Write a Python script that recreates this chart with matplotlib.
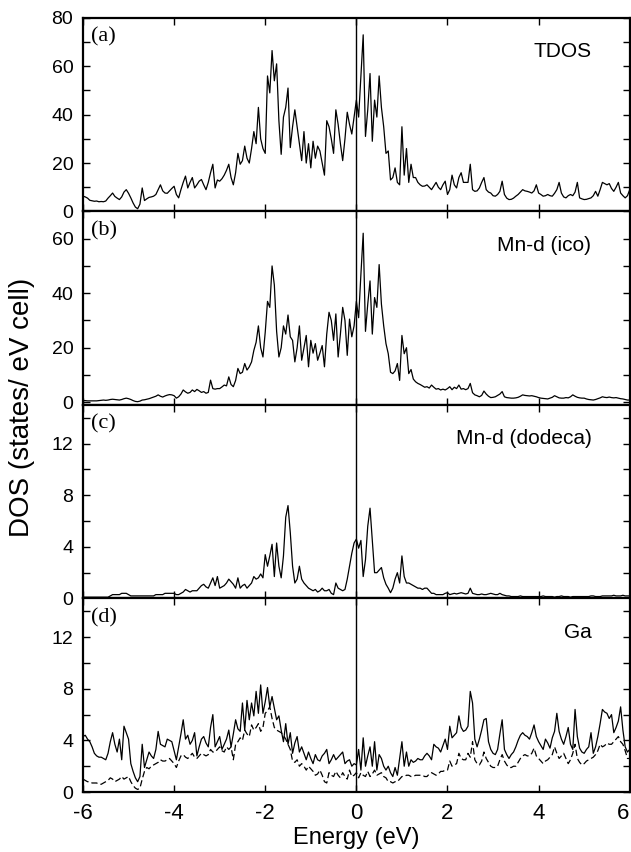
import numpy as np
import matplotlib
matplotlib.use('Agg')
import matplotlib.pyplot as plt
from matplotlib.ticker import MultipleLocator

plt.rcParams['font.family'] = ['Liberation Sans', 'DejaVu Sans']

# energy grid, -6 .. 6 eV in 0.05 eV steps (one row = 1 eV)
energy = np.linspace(-6, 6, 241)

tdos = [
    6.3, 6.0, 5.5, 4.6, 4.4, 4.2, 4.3, 4.0, 4.1, 4.0, 4.3, 5.5, 6.5, 7.6, 6.2, 5.5, 4.9, 6.0, 8.0, 9.0,
    7.5, 5.6, 3.5, 1.8, 1.1, 3.0, 9.7, 4.5, 5.2, 5.8, 6.0, 6.3, 7.0, 9.0, 11.0, 8.5, 7.6, 7.5, 8.5, 9.5,
    10.4, 7.0, 5.6, 9.0, 12.0, 14.6, 9.7, 12.0, 14.0, 9.7, 11.0, 12.5, 13.2, 11.0, 9.0, 12.0, 16.0, 19.5, 9.7, 13.0,
    12.5, 13.5, 15.0, 17.0, 19.5, 14.0, 11.0, 16.0, 24.0, 19.5, 21.0, 27.0, 22.0, 20.0, 26.0, 33.0, 28.0, 43.0, 30.0, 26.0,
    24.0, 56.0, 49.0, 66.5, 54.0, 61.0, 37.5, 23.6, 39.0, 43.0, 51.0, 26.4, 35.0, 42.0, 35.0, 28.0, 21.0, 33.0, 20.0, 28.0,
    18.0, 29.0, 22.0, 27.0, 25.0, 20.0, 15.0, 37.5, 35.0, 30.0, 24.0, 42.0, 36.0, 28.0, 21.0, 30.0, 41.0, 36.0, 32.0, 39.0,
    46.0, 39.0, 56.0, 73.0, 31.0, 42.0, 57.0, 29.0, 46.0, 39.0, 56.0, 43.0, 35.0, 24.0, 25.0, 13.0, 14.0, 18.0, 12.0, 11.0,
    35.0, 15.0, 26.0, 12.0, 19.5, 14.0, 14.0, 12.0, 11.0, 10.4, 10.5, 11.0, 10.0, 9.0, 10.5, 12.0, 10.0, 9.0, 11.0, 12.5,
    7.0, 9.0, 15.0, 11.0, 9.7, 14.0, 16.0, 12.0, 12.0, 12.0, 19.5, 9.0, 8.3, 8.5, 9.7, 12.0, 14.0, 9.0, 8.0, 7.6,
    6.5, 6.3, 7.0, 8.3, 12.5, 7.0, 5.5, 4.9, 5.0, 5.5, 6.3, 7.0, 8.0, 9.0, 8.5, 8.3, 8.0, 7.6, 8.5, 11.0,
    7.6, 7.0, 6.3, 6.5, 7.0, 6.5, 6.3, 7.5, 9.0, 12.0, 7.6, 6.0, 5.6, 6.5, 7.0, 6.5, 8.0, 12.0, 5.6, 5.2,
    4.9, 5.0, 5.3, 5.6, 6.5, 8.3, 6.3, 9.0, 12.0, 11.5, 11.0, 11.5, 9.5, 8.3, 10.0, 12.0, 7.6, 6.5, 5.6, 6.5,
    9.0,
]

mn_ico = [
    0.6, 0.6, 0.5, 0.5, 0.5, 0.5, 0.5, 0.6, 0.7, 0.8, 0.7, 0.8, 1.0, 1.1, 1.0, 0.9, 0.8, 1.0, 1.3, 1.5,
    1.3, 1.0, 0.6, 0.3, 0.2, 0.4, 0.8, 0.9, 1.1, 1.3, 1.6, 1.9, 2.2, 2.7, 2.2, 1.9, 2.3, 2.6, 2.8, 2.7,
    2.4, 1.5, 2.0, 3.0, 4.5, 3.8, 3.3, 3.6, 4.5, 3.9, 4.7, 4.2, 3.6, 3.9, 3.3, 3.6, 8.1, 5.0, 4.8, 5.0,
    5.0, 5.6, 6.3, 6.0, 9.3, 6.5, 5.7, 8.0, 12.4, 10.5, 11.0, 14.2, 11.8, 13.0, 14.8, 19.0, 22.0, 28.0, 20.0, 16.6,
    25.7, 37.0, 34.8, 50.0, 43.0, 26.0, 16.6, 20.0, 28.0, 25.0, 32.0, 24.0, 22.7, 14.8, 20.0, 28.0, 15.4, 20.0, 24.5, 13.0,
    22.7, 18.0, 21.5, 15.4, 18.0, 20.8, 13.0, 25.0, 33.0, 30.0, 22.7, 32.4, 16.6, 25.0, 34.8, 30.0, 17.2, 30.5, 24.0, 28.0,
    37.0, 31.0, 47.0, 62.0, 26.0, 36.0, 44.5, 25.0, 38.4, 34.8, 50.5, 36.0, 28.0, 21.5, 17.8, 11.0, 10.5, 11.5, 14.2, 8.0,
    24.5, 17.8, 20.0, 10.5, 12.0, 8.5, 7.5, 6.9, 6.5, 6.0, 5.5, 5.7, 5.2, 6.3, 5.5, 4.8, 5.0, 4.5, 4.8, 4.5,
    5.0, 5.7, 4.6, 5.5, 5.0, 6.3, 4.8, 5.0, 4.6, 5.0, 6.9, 3.5, 2.7, 2.4, 2.0, 2.5, 4.1, 3.0, 2.2, 1.7,
    1.8, 2.0, 2.5, 3.0, 3.9, 2.0, 1.7, 1.6, 1.5, 1.5, 1.6, 1.8, 2.2, 2.7, 2.5, 2.4, 2.3, 2.4, 2.2, 2.0,
    1.7, 1.5, 1.4, 1.3, 1.2, 1.5, 1.8, 2.4, 2.0, 1.6, 1.5, 1.5, 1.7, 1.6, 2.0, 2.7, 2.2, 1.8, 1.6, 1.5,
    1.5, 1.2, 1.0, 0.9, 0.8, 1.0, 1.3, 1.6, 2.0, 1.8, 1.7, 1.9, 1.7, 1.6, 1.7, 1.5, 1.3, 1.2, 1.0, 0.8,
    0.8,
]

mn_dodeca = [
    0.1, 0.1, 0.1, 0.1, 0.1, 0.1, 0.1, 0.1, 0.1, 0.1, 0.1, 0.1, 0.2, 0.3, 0.3, 0.3, 0.3, 0.4, 0.4, 0.4,
    0.3, 0.2, 0.2, 0.2, 0.2, 0.2, 0.2, 0.2, 0.2, 0.2, 0.2, 0.2, 0.3, 0.3, 0.3, 0.3, 0.4, 0.4, 0.4, 0.4,
    0.4, 0.3, 0.3, 0.4, 0.5, 0.7, 0.6, 0.5, 0.6, 0.6, 0.6, 0.8, 1.0, 1.1, 0.9, 0.8, 1.2, 1.6, 1.0, 1.7,
    0.8, 0.9, 1.0, 1.2, 1.5, 1.3, 1.1, 0.8, 1.6, 0.8, 1.0, 1.1, 0.8, 1.0, 1.2, 1.7, 1.5, 1.6, 1.9, 1.6,
    3.4, 2.5, 3.3, 4.2, 1.7, 4.3, 2.5, 1.6, 3.3, 6.3, 7.2, 5.1, 2.5, 1.2, 1.5, 2.5, 1.5, 1.2, 1.0, 0.8,
    0.7, 0.6, 0.7, 0.5, 0.6, 0.8, 0.6, 0.6, 0.7, 0.4, 0.3, 1.2, 0.8, 0.7, 0.6, 0.7, 1.5, 2.5, 3.5, 4.3,
    4.6, 3.9, 4.5, 1.7, 3.0, 5.6, 7.0, 4.5, 2.0, 2.0, 2.2, 2.4, 1.6, 1.1, 0.8, 0.45, 0.8, 1.5, 2.0, 1.2,
    3.3, 1.7, 1.2, 1.2, 1.1, 1.0, 0.9, 0.8, 0.8, 0.7, 0.8, 0.8, 0.6, 0.4, 0.4, 0.3, 0.3, 0.3, 0.3, 0.4,
    0.45, 0.3, 0.35, 0.4, 0.35, 0.4, 0.45, 0.4, 0.35, 0.4, 0.8, 0.4, 0.35, 0.3, 0.3, 0.35, 0.3, 0.3, 0.35, 0.4,
    0.35, 0.3, 0.3, 0.4, 0.3, 0.25, 0.2, 0.2, 0.15, 0.15, 0.15, 0.15, 0.2, 0.15, 0.15, 0.15, 0.15, 0.15, 0.15, 0.15,
    0.15, 0.15, 0.2, 0.15, 0.15, 0.15, 0.15, 0.1, 0.15, 0.15, 0.2, 0.15, 0.15, 0.15, 0.1, 0.15, 0.15, 0.15, 0.15, 0.15,
    0.15, 0.15, 0.15, 0.2, 0.2, 0.15, 0.15, 0.15, 0.2, 0.2, 0.2, 0.2, 0.2, 0.25, 0.2, 0.2, 0.2, 0.25, 0.2, 0.2,
    0.2,
]

ga_solid = [
    4.3, 4.4, 4.1, 3.9, 3.5, 3.0, 2.8, 2.7, 2.7, 2.6, 2.5, 3.0, 3.9, 4.6, 3.7, 3.1, 4.1, 2.5, 5.1, 4.6,
    4.1, 2.2, 1.6, 1.1, 0.8, 1.2, 3.7, 1.9, 2.5, 3.1, 2.8, 2.6, 3.3, 4.7, 3.7, 3.6, 3.5, 4.1, 4.0, 3.9,
    3.2, 2.5, 3.5, 4.5, 5.6, 4.1, 4.4, 3.7, 4.0, 4.6, 2.8, 3.5, 4.1, 4.3, 3.8, 3.5, 5.0, 6.0, 3.5, 3.9,
    4.3, 3.3, 3.7, 4.1, 4.8, 3.5, 4.5, 5.6, 4.9, 4.7, 6.9, 4.8, 7.1, 5.6, 6.9, 5.9, 7.8, 6.1, 8.3, 6.1,
    7.0, 8.1, 6.6, 7.4, 6.5, 5.6, 5.9, 4.8, 3.9, 5.3, 3.7, 4.6, 3.0, 3.8, 4.3, 3.1, 3.5, 3.0, 2.5, 3.1,
    2.6, 2.2, 2.9, 2.5, 2.4, 2.8, 3.0, 3.3, 2.2, 2.5, 2.9, 2.5, 2.7, 2.9, 3.1, 2.2, 2.4, 2.5, 2.0, 2.2,
    2.1, 3.3, 1.7, 4.2, 2.0, 2.8, 3.5, 2.0, 3.9, 1.7, 2.9, 2.6, 2.0, 1.7, 2.0, 1.5, 1.2, 1.9, 1.3, 2.6,
    3.9, 2.0, 3.1, 2.0, 2.5, 2.3, 2.4, 2.6, 2.5, 2.5, 2.8, 3.0, 2.8, 2.5, 3.7, 3.5, 3.4, 3.1, 3.6, 4.1,
    3.3, 5.1, 4.2, 4.4, 4.6, 5.9, 5.0, 4.7, 4.8, 5.1, 7.8, 6.9, 4.1, 3.5, 4.1, 4.8, 5.6, 5.7, 3.9, 3.3,
    3.0, 2.9, 3.3, 4.5, 5.6, 3.3, 2.9, 2.6, 2.9, 3.1, 3.5, 4.0, 4.4, 4.6, 4.4, 4.3, 4.1, 4.6, 5.2, 4.3,
    3.9, 3.6, 3.3, 4.1, 3.8, 3.4, 4.2, 4.7, 6.1, 4.7, 4.1, 3.7, 4.3, 5.0, 3.7, 3.3, 6.4, 4.3, 3.4, 3.1,
    3.0, 3.3, 3.5, 4.6, 3.0, 3.5, 4.3, 5.3, 6.4, 6.2, 6.1, 5.7, 6.0, 4.6, 5.0, 5.5, 6.6, 4.8, 3.5, 3.1,
    3.3,
]

ga_dashed = [
    1.0, 0.9, 0.8, 0.8, 0.7, 0.7, 0.7, 0.6, 0.6, 0.7, 0.8, 0.9, 1.1, 1.0, 0.8, 0.9, 1.0, 1.2, 1.0, 1.1,
    1.2, 0.8, 0.5, 0.3, 0.2, 0.3, 1.0, 1.6, 1.9, 1.8, 2.0, 2.1, 2.2, 2.3, 2.5, 2.4, 2.4, 2.5, 2.6, 2.4,
    2.2, 1.9, 2.4, 2.8, 2.9, 2.7, 2.6, 2.8, 3.0, 2.7, 2.6, 2.8, 3.0, 2.9, 2.8, 2.9, 3.3, 3.1, 3.1, 3.3,
    3.5, 3.2, 3.1, 3.5, 3.3, 3.5, 2.5, 3.7, 3.9, 4.2, 4.0, 4.8, 4.5, 4.3, 5.2, 4.8, 5.0, 5.3, 4.7, 5.0,
    6.1, 6.3, 6.6, 5.7, 5.0, 4.8, 4.7, 4.6, 4.4, 4.1, 3.7, 3.3, 2.4, 2.3, 2.5, 2.0, 2.2, 2.0, 1.7, 2.0,
    1.8, 1.6, 1.3, 1.4, 1.7, 1.3, 0.8, 0.7, 1.5, 1.3, 1.2, 1.6, 1.3, 1.1, 1.5, 1.2, 1.0, 1.7, 1.2, 1.3,
    1.5, 1.1, 1.5, 1.3, 1.2, 1.6, 1.2, 1.4, 1.7, 1.3, 1.4, 1.5, 1.2, 1.1, 0.8, 0.8, 0.7, 0.8, 0.8, 1.0,
    1.2, 1.2, 1.3, 1.3, 1.2, 1.2, 1.3, 1.3, 1.3, 1.3, 1.2, 1.2, 1.4, 1.5, 1.4, 1.3, 1.4, 1.6, 1.6, 1.7,
    1.7, 2.4, 2.0, 2.1, 2.2, 3.0, 2.6, 2.5, 2.5, 3.0, 2.7, 3.9, 2.5, 2.2, 2.1, 2.4, 3.1, 2.6, 2.3, 2.0,
    1.9, 1.9, 2.0, 2.5, 2.9, 2.4, 2.1, 1.9, 1.9, 2.0, 2.0, 2.3, 2.6, 2.8, 2.9, 2.8, 2.8, 3.0, 3.4, 2.8,
    2.6, 2.4, 2.2, 2.4, 2.5, 2.7, 2.9, 3.5, 3.0, 2.6, 2.8, 3.0, 2.6, 2.2, 2.5, 3.0, 3.7, 2.6, 2.3, 2.1,
    2.2, 2.4, 2.5, 2.6, 2.7, 2.9, 3.2, 3.7, 3.5, 3.6, 3.8, 3.7, 3.7, 3.9, 4.1, 4.3, 3.9, 3.7, 3.2, 2.6,
    2.6,
]

panel_tags = ['(a)', '(b)', '(c)', '(d)']
panel_names = ['TDOS', 'Mn-d (ico)', 'Mn-d (dodeca)', 'Ga']
ylims = [(0, 80), (-1, 70), (0, 15), (0, 15)]
ymajor = [20, 20, 4, 4]
ymaxtick = [80, 60, 12, 12]

fig, axes = plt.subplots(4, 1, sharex=True, figsize=(6.31, 8.52), dpi=100)
fig.subplots_adjust(left=0.1315, right=0.998, top=0.979, bottom=0.0704, hspace=0)

curves = [[tdos], [mn_ico], [mn_dodeca], [ga_solid, ga_dashed]]

for i, ax in enumerate(axes):
    ax.plot(energy, curves[i][0], color='black', lw=0.9)
    if len(curves[i]) > 1:
        ax.plot(energy, curves[i][1], color='black', lw=0.9, linestyle=(0, (5, 2.5)))
    ax.axvline(0, color='black', lw=1.0)
    ax.set_ylim(*ylims[i])
    ax.set_yticks(np.arange(0, ymaxtick[i] + 0.1, ymajor[i]))
    ax.yaxis.set_minor_locator(MultipleLocator(ymajor[i] / 2))
    ax.tick_params(direction='in', which='both', top=True, right=True,
                   length=5, width=1.0, labelsize=14, pad=7)
    ax.tick_params(axis='x', labelsize=16, pad=8)
    for sp in ax.spines.values():
        sp.set_linewidth(1.6)
    ax.text(0.014, 0.9, panel_tags[i], transform=ax.transAxes, ha='left', va='center',
            fontsize=16, family=['Liberation Serif', 'DejaVu Serif'])
    ax.text(0.93, 0.825, panel_names[i], transform=ax.transAxes, ha='right', va='center',
            fontsize=15)

axes[-1].set_xlim(-6, 6)
axes[-1].set_xticks(np.arange(-6, 6.1, 2))
axes[-1].set_xticklabels(['-6', '-4', '-2', '0', '2', '4', '6'])
# last label sits on the right edge of the figure
axes[-1].get_xticklabels()[-1].set_horizontalalignment('right')
for ax in axes:
    ax.set_yticklabels([str(int(v)) for v in ax.get_yticks()])
axes[-1].set_xlabel('Energy (eV)', fontsize=17, labelpad=2)
fig.text(0.035, 0.522, 'DOS (states/ eV cell)', rotation=90, ha='center', va='center', fontsize=20)

fig.savefig('out.png', dpi=100)
